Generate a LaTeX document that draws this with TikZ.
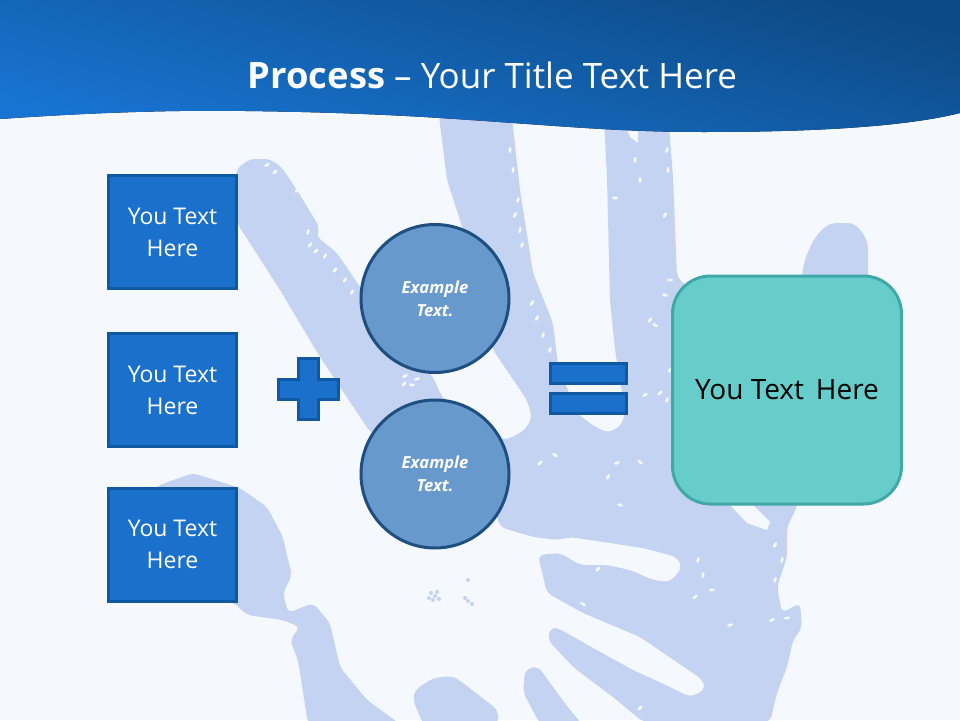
\documentclass[tikz,border=0pt]{standalone}
\usepackage{fontspec}
\setmainfont{Open Sans}
\usetikzlibrary{positioning}
\definecolor{pagebg}{HTML}{F5F9FE}
\definecolor{handblue}{HTML}{C4D3F1}
\definecolor{bannerlow}{HTML}{1874D2}
\definecolor{bannermid}{HTML}{135CA6}
\definecolor{bannerhigh}{HTML}{0D4A85}
\definecolor{boxfill}{HTML}{1A70CB}
\definecolor{boxline}{HTML}{0F58A2}
\definecolor{ballfill}{HTML}{6899CD}
\definecolor{ballline}{HTML}{1F4E80}
\definecolor{tealfill}{HTML}{66CDCB}
\definecolor{tealline}{HTML}{3FA9A9}
\tikzset{
  textbox/.style={draw=boxline, fill=boxfill, line width=3pt, minimum width=128pt, minimum height=113pt,
    align=center, text=white, font=\fontsize{23}{32}\selectfont, inner sep=0pt},
  ball/.style={circle, draw=ballline, fill=ballfill, line width=3pt, minimum size=148pt,
    align=center, text=white, font=\fontsize{16.6}{23}\selectfont\bfseries\itshape, inner sep=0pt},
  signbar/.style={draw=boxline, fill=boxfill, line width=3pt, minimum width=76pt, minimum height=20pt, inner sep=0pt},
  result/.style={draw=tealline, fill=tealfill, line width=3pt, rounded corners=38pt, minimum width=229pt,
    minimum height=228pt, font=\fontsize{28}{32}\selectfont, inner sep=0pt},
  hand/.style={fill=handblue, rounded corners=6pt},
  nick/.style={fill=pagebg},
}
\begin{document}
\begin{tikzpicture}[x=1pt, y=-1pt]
\fill[pagebg] (0,0) rectangle (960,720);
\useasboundingbox (0,0) rectangle (960,720);
%
\fill[hand] (235,175) .. controls (240,165) and (250,159) .. (260,159) .. controls (270,159) and (278,164) .. (285,172)
  -- (300,195) -- (320,228) -- (316,236) -- (337,253)
  -- (360,287) -- (433,377) -- (442,397) -- (470,425) -- (503,440) -- (513,437) -- (526,429) -- (532,417)
  -- (527,400) -- (493,350) -- (460,220) -- (447,180) -- (437,100) -- (510,100) -- (520,190) -- (533,273)
  -- (553,323) -- (558,365) -- (577,413) -- (592,425) -- (608,433) -- (622,425) -- (625,410) -- (615,350)
  -- (610,300) -- (607,177) -- (603,100) -- (625,100) -- (625,130) -- (638,143) -- (638,100) -- (667,100)
  -- (673,177) -- (677,277) -- (700,300) -- (802,300) -- (802,273) .. controls (808,245) and (822,223) .. (842,223)
  .. controls (858,223) and (868,238) .. (868,255) -- (868,300) -- (800,480) -- (797,507) -- (787,527) -- (787,557) -- (777,587)
  -- (782,613) -- (800,603) -- (802,628) -- (793,640) -- (787,667) -- (777,693) -- (770,722) -- (643,722)
  -- (613,697) -- (573,667) -- (548,640) -- (550,628) -- (558,628) -- (593,648) -- (633,670) -- (670,687)
  -- (690,697) -- (705,690) -- (703,680) -- (640,637) -- (583,613) -- (547,593) -- (538,555) -- (560,553)
  -- (580,565) -- (607,565) -- (630,570) -- (653,580) -- (670,582) -- (682,568) -- (677,557) -- (643,548)
  -- (570,537) -- (558,540) -- (533,537) -- (500,527) -- (497,515) -- (370,432) -- (360,417) -- (320,357)
  -- (280,290) -- (237,223) -- cycle;
\fill[hand] (523,692) -- (525,670) -- (538,666) -- (550,683) -- (570,710) -- (582,724) -- (540,724) -- cycle;
\fill[hand] (150,490) -- (165,483) -- (193,473) -- (240,488) -- (267,507) -- (283,537) -- (288,560) -- (292,575)
  -- (283,593) -- (288,613) -- (313,603) -- (330,623) -- (340,667) -- (367,700) -- (400,724) -- (308,724)
  -- (298,660) -- (290,640) -- (300,627) -- (283,620) -- (247,615) -- (233,602) -- (150,600) -- cycle;
\fill[hand] (413,700) -- (415,690) -- (433,678) -- (453,676) -- (463,683) -- (498,710) -- (498,724) -- (423,724) -- cycle;
%
\fill[nick] (730,505) -- (747,523) -- (767,530) -- (770,522) -- (753,505) -- cycle;
\fill[nick] (626,125) -- (638,125) -- (638,143) -- (630,137) -- cycle;
\foreach \x/\y/\a in {267/165/30, 275/172/40, 297/190/60, 308/232/70, 310/245/50, 316/251/40, 325/256/60,
    335/270/50, 345/280/60, 352/292/60, 510/150/85, 513/170/80, 518/200/70, 515/215/60, 520/230/80, 522/245/70,
    532/303/60, 537/318/60, 543/335/70, 550/350/70, 640/180/90, 615/198/0, 668/170/80, 667/150/70, 635/160/80,
    665/215/60, 670/280/0, 665/295/-20, 650/320/60, 655/325/-30, 670/370/60, 660/393/40, 645/395/30, 667/400/70,
    540/463/40, 555/455/-30, 617/463/20, 640/462/-30, 608/477/60, 703/575/80, 698/560/70, 712/590/10, 695/597/40,
    775/545/60, 782/560/70, 775/580/70, 772/620/20, 787/618/10, 730/625/15, 620/505/-20, 405/376/30, 412/385/-10,
    404/384/50, 417/379/20, 583/604/-30, 598/569/50, 640/708/40} {
  \fill[nick, rotate around={\a:(\x,\y)}] (\x,\y) ellipse (3 and 1.5);
}
\foreach \x/\y in {431/593, 435/596, 433/600, 437/592, 429/598, 439/599, 468/580, 468/601, 472/604, 465/598} {
  \fill[handblue] (\x,\y) circle (2);
}
%
\fill[bottom color=bannerlow, middle color=bannermid, top color=bannerhigh, shading angle=-14] (0,0) -- (960,0) -- (960,113)
  .. controls (900,128) and (800,132) .. (704,132) .. controls (620,132) and (560,126) .. (470,120)
  .. controls (400,115) and (330,112) .. (245,111) .. controls (180,110) and (100,112) .. (0,119) -- cycle;
\node[text=white, font=\fontsize{35}{40}\selectfont] (title) at (492.5,75) {{\fontsize{36.3}{40}\selectfont\textbf{Process}} – Your Title Text Here};
%
\node[textbox] (b1) at (172.5,232) {You Text\\Here};
\node[textbox] (b2) at (172.5,390) {You Text\\Here};
\node[textbox] (b3) at (172.5,544.5) {You Text\\Here};
%
\draw[draw=boxline, fill=boxfill, line width=3pt] (298.5,358.5) -- (318,358.5) -- (318,379.5) -- (338,379.5) -- (338,399) -- (318,399)
  -- (318,419) -- (298.5,419) -- (298.5,399) -- (278.5,399) -- (278.5,379.5) -- (298.5,379.5) -- cycle;
%
\node[ball] (c1) at (435,298.5) {Example\\Text.};
\node[ball] (c2) at (435,474) {Example\\Text.};
%
\node[signbar] (eq1) at (588.5,373.5) {};
\node[signbar] (eq2) at (588.5,403) {};
%
\node[result] (r1) at (787,390) {You Text\, Here};
\end{tikzpicture}
\end{document}
